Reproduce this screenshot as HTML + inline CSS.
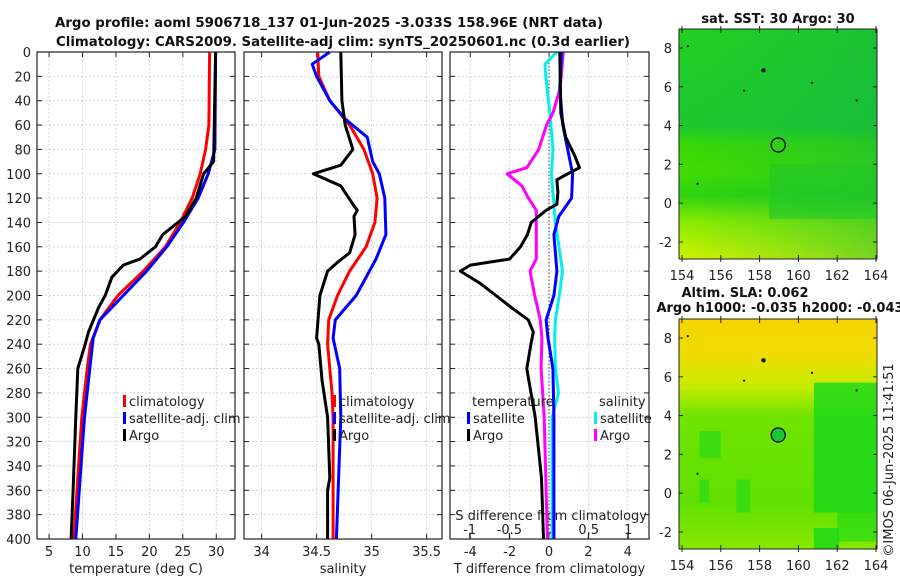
<!DOCTYPE html>
<html><head><meta charset="utf-8"><style>
html,body{margin:0;padding:0;background:#fff;}
svg{display:block;font-family:"DejaVu Sans","Liberation Sans",sans-serif;}
</style></head><body>
<svg id="fig" width="900" height="580" viewBox="0 0 900 580" xmlns="http://www.w3.org/2000/svg">
<defs>
<linearGradient id="sstg" x1="0" y1="0" x2="0" y2="1">
<stop offset="0" stop-color="#22d022"/><stop offset="0.42" stop-color="#1cc82e"/><stop offset="0.5" stop-color="#38d806"/><stop offset="0.62" stop-color="#44dc00"/><stop offset="0.72" stop-color="#2cd40e"/><stop offset="0.84" stop-color="#8cec00"/><stop offset="1" stop-color="#d2f200"/>
</linearGradient>
<linearGradient id="sstg2" x1="0" y1="0" x2="1" y2="0">
<stop offset="0" stop-color="#10b848" stop-opacity="0"/><stop offset="1" stop-color="#10b048" stop-opacity="0.45"/>
</linearGradient>
<linearGradient id="slag" x1="0" y1="0" x2="0" y2="1">
<stop offset="0" stop-color="#f6d400"/><stop offset="0.15" stop-color="#f0dc00"/><stop offset="0.3" stop-color="#c4ec00"/><stop offset="0.42" stop-color="#70e400"/><stop offset="0.8" stop-color="#60e000"/><stop offset="1" stop-color="#88e800"/>
</linearGradient>
</defs>
<g id="plots"></g>
</svg>
<script>
// ---- data: depth (m) and values ----
const tClimDepth=[0,60,80,100,120,140,160,180,200,220,240,260,300,400];
const tClimVal=[29.0,28.9,28.4,27.6,26.4,24.6,22.4,19.1,15.3,12.6,11.2,10.7,9.9,8.7];
const tSatDepth=[0,80,100,120,140,160,180,200,220,235,260,300,400];
const tSatVal=[29.9,29.8,28.8,27.3,25.1,22.6,19.6,16.1,12.6,11.6,11.1,10.3,9.0];
const tArgoDepth=[0,90,100,120,135,150,160,170,175,185,200,210,230,240,260,300,360,400];
const tArgoVal=[29.9,29.6,28.1,27.0,25.4,22.0,20.9,18.6,16.1,14.4,13.4,12.4,10.9,10.4,9.3,9.0,8.6,8.3];
const sClimDepth=[0,20,40,60,80,100,120,140,160,180,200,220,240,280,300,400];
const sClimVal=[34.51,34.52,34.62,34.80,34.93,35.01,35.05,35.03,34.95,34.80,34.69,34.61,34.60,34.64,34.65,34.65];
const sSatDepth=[0,10,20,40,55,70,90,100,120,150,170,180,200,220,235,260,300,400];
const sSatVal=[34.62,34.46,34.50,34.62,34.76,34.96,35.01,35.07,35.12,35.13,35.04,34.98,34.86,34.67,34.65,34.71,34.72,34.68];
const sArgoDepth=[0,40,60,80,93,100,110,125,130,135,150,165,172,180,200,235,240,270,300,350,360,400];
const sArgoVal=[34.72,34.73,34.76,34.83,34.72,34.47,34.72,34.83,34.87,34.84,34.85,34.80,34.70,34.60,34.53,34.50,34.52,34.55,34.60,34.62,34.60,34.60];
const dTSatDepth=[0,30,60,80,100,120,135,150,180,200,220,235,260,300,400];
const dTSatVal=[0.64,0.55,0.7,0.95,1.2,1.15,0.5,0.25,0.4,0.25,-0.15,-0.05,0.2,0.25,0.25];
const dTArgoDepth=[0,50,70,85,95,100,105,115,125,130,140,150,160,170,175,180,190,200,210,220,230,240,260,300,350,400];
const dTArgoVal=[0.55,0.6,0.85,1.3,1.55,0.95,0.4,0.45,0.4,-0.15,-0.9,-1.1,-1.45,-2.0,-4.0,-4.5,-3.5,-2.7,-1.9,-1.05,-0.8,-0.92,-1.13,-0.7,-0.38,-0.28];
const dSArgoDepth=[0,30,50,60,80,95,100,110,120,130,150,170,180,200,220,235,260,300,400];
const dSArgoVal=[0.18,0.14,0.05,-0.03,-0.13,-0.28,-0.53,-0.34,-0.26,-0.16,-0.16,-0.16,-0.24,-0.18,-0.11,-0.09,-0.1,-0.06,-0.02];
const dSSatDepth=[0,10,20,50,80,100,140,180,200,220,235,260,280,300,400];
const dSSatVal=[0.1,-0.05,-0.04,0.01,0.05,0.03,0.08,0.17,0.13,0.08,0.07,0.08,0.12,0.04,0.04];
const depthTicks=[0,20,40,60,80,100,120,140,160,180,200,220,240,260,280,300,320,340,360,380,400];
const tTicks=[5,10,15,20,25,30];
const sTicks=[34,34.5,35,35.5];
const dTTicks=[-4,-2,0,2,4];
const dSTicks=[-1,-0.5,0,0.5,1];
const lonTicks=[154,156,158,160,162,164];
const latTicks=[-2,0,2,4,6,8];
const islandLon=[154.3,157.2,158.2,160.7,163.0,154.8];
const islandLat=[8.1,5.8,6.85,6.2,5.3,1.0];
const argoLon=158.96, argoLat=3.0;

const NS="http://www.w3.org/2000/svg";
const root=document.getElementById('plots');
function el(t,a,p){const e=document.createElementNS(NS,t);for(const k in a)e.setAttribute(k,a[k]);(p||root).appendChild(e);return e;}
function txt(s,a,p){const e=el('text',a,p);e.textContent=s;return e;}

const Y0=52,Y1=539;
const yD=d=>Y0+(d/400)*(Y1-Y0);
const panels=[
 {x0:37,x1:235,lo:3.2,hi:32.8,ticks:tTicks,name:'temperature-panel',label:'temperature (deg C)'},
 {x0:244,x1:442,lo:33.84,hi:35.64,ticks:sTicks,name:'salinity-panel',label:'salinity'},
 {x0:450,x1:649,lo:-5.03,hi:5.08,ticks:dTTicks,name:'difference-panel',label:'T difference from climatology'}
];
panels.forEach((p,i)=>{
 p.sx=v=>p.x0+(v-p.lo)/(p.hi-p.lo)*(p.x1-p.x0);
 const g=el('g',{});
 
 
 depthTicks.forEach(d=>{
  el('line',{x1:p.x0,x2:p.x1,y1:yD(d),y2:yD(d),stroke:'#c4cbe6','stroke-width':0.8,'stroke-dasharray':'2,2'},g);
  el('line',{x1:p.x0,x2:p.x0+5,y1:yD(d),y2:yD(d),stroke:'#222'},g);
  el('line',{x1:p.x1-5,x2:p.x1,y1:yD(d),y2:yD(d),stroke:'#222'},g);
  if(i===0){const t=txt(String(d),{x:p.x0-6,y:yD(d)+5,'text-anchor':'end','font-size':13,fill:'#222'},g);
   }
 });
 p.ticks.forEach(v=>{
  const x=p.sx(v);
  el('line',{x1:x,x2:x,y1:Y0,y2:Y1,stroke:'#c4cbe6','stroke-width':0.8,'stroke-dasharray':'2,2'},g);
  el('line',{x1:x,x2:x,y1:Y0,y2:Y0+5,stroke:'#222'},g);
  el('line',{x1:x,x2:x,y1:Y1-5,y2:Y1,stroke:'#222'},g);
  const t=txt(String(v),{x:x,y:556,'text-anchor':'middle','font-size':13,fill:'#222'},g);
  
 });
 const xl=txt(p.label,{x:(p.x0+p.x1)/2,y:573,'text-anchor':'middle','font-size':13,fill:'#222'},g);
 
 p.g=g;
});
const P3=panels[2];
el('line',{x1:P3.sx(0),x2:P3.sx(0),y1:Y0,y2:Y1,stroke:'#444','stroke-width':1,'stroke-dasharray':'1.5,2'},P3.g);
const sxS=v=>P3.sx(0)+v*79.3;
dSTicks.forEach(v=>{
 const t=txt(String(v),{x:sxS(v),y:534,'text-anchor':'middle','font-size':13,fill:'#222'},P3.g);
 
 el('line',{x1:sxS(v),x2:sxS(v),y1:Y1-6,y2:Y1,stroke:'#222'},P3.g);
});
const st=txt('S difference from climatology',{x:P3.x1-2,y:520,'text-anchor':'end','font-size':13,fill:'#222'},P3.g);


function series(p,sx,depths,vals,color,name){
 const pts=depths.map((d,k)=>sx(vals[k]).toFixed(1)+','+yD(d).toFixed(1)).join(' ');
 const e=el('polyline',{points:pts,fill:'none',stroke:color,'stroke-width':3,'stroke-linejoin':'round'},p.g);
 
 
}
const P1=panels[0],P2=panels[1];
series(P1,P1.sx,tClimDepth,tClimVal,'#f00','temperature-climatology-line');
series(P1,P1.sx,tSatDepth,tSatVal,'#0000ff','temperature-satellite-line');
series(P1,P1.sx,tArgoDepth,tArgoVal,'#000','temperature-argo-line');
series(P2,P2.sx,sClimDepth,sClimVal,'#f00','salinity-climatology-line');
series(P2,P2.sx,sSatDepth,sSatVal,'#0000ff','salinity-satellite-line');
series(P2,P2.sx,sArgoDepth,sArgoVal,'#000','salinity-argo-line');
series(P3,sxS,dSSatDepth,dSSatVal,'#00f0f0','s-diff-satellite-line');
series(P3,sxS,dSArgoDepth,dSArgoVal,'#ff00ff','s-diff-argo-line');
series(P3,P3.sx,dTSatDepth,dTSatVal,'#0000ff','t-diff-satellite-line');
series(P3,P3.sx,dTArgoDepth,dTArgoVal,'#000','t-diff-argo-line');
panels.forEach(p=>el('rect',{x:p.x0,y:Y0,width:p.x1-p.x0,height:Y1-Y0,fill:'none',stroke:'#222','stroke-width':1.2},p.g));

function legendItem(g,x,y,color,label){
 el('rect',{x:x,y:y-11,width:3,height:12,fill:color},g);
 const t=txt(label,{x:x+6,y:y,'font-size':13,fill:'#222'},g);
 
}
[[P1,123],[P2,333]].forEach(([p,x])=>{
 legendItem(p.g,x,406,'#f00','climatology');
 legendItem(p.g,x,423,'#0000ff','satellite-adj. clim');
 legendItem(p.g,x,440,'#000','Argo');
});
txt('temperature',{x:472,y:406,'font-size':13,fill:'#222'},P3.g);
txt('salinity',{x:599,y:406,'font-size':13,fill:'#222'},P3.g);
legendItem(P3.g,467,423,'#0000ff','satellite');
legendItem(P3.g,467,440,'#000','Argo');
legendItem(P3.g,594,423,'#00f0f0','satellite');
legendItem(P3.g,594,440,'#ff00ff','Argo');

const t1=txt('Argo profile: aoml 5906718_137 01-Jun-2025 -3.033S 158.96E (NRT data)',{x:55,y:27,'font-size':13,'font-weight':'bold',fill:'#111',textLength:548,lengthAdjust:'spacingAndGlyphs'});

const t2=txt('Climatology: CARS2009. Satellite-adj clim: synTS_20250601.nc (0.3d earlier)',{x:56,y:46,'font-size':13,'font-weight':'bold',fill:'#111',textLength:574,lengthAdjust:'spacingAndGlyphs'});


function map(top,bottom,fillId,name,titles,extra){
 const g=el('g',{});
 
 
 const X0=679,X1=877;
 const mx=l=>682+(l-154)*(876-682)/10;
 const my=la=>top+(8.98-la)*(bottom-top)/(8.98+2.88);
 el('rect',{x:X0,y:top,width:X1-X0,height:bottom-top,fill:'url(#'+fillId+')'},g);
 extra(g,mx,my);
 islandLon.forEach((l,k)=>el('circle',{cx:mx(l),cy:my(islandLat[k]),r:k===2?2.2:1.1,fill:'#111'},g));
 const c=el('circle',{cx:mx(argoLon),cy:my(argoLat),r:7,fill:'none',stroke:'#000','stroke-width':1.3},g);
 
 el('rect',{x:X0,y:top,width:X1-X0,height:bottom-top,fill:'none',stroke:'#222'},g);
 latTicks.forEach(la=>{
  el('line',{x1:X0,x2:X0+4,y1:my(la),y2:my(la),stroke:'#222'},g);
  el('line',{x1:X1-4,x2:X1,y1:my(la),y2:my(la),stroke:'#222'},g);
  txt(String(la),{x:X0-7,y:my(la)+5,'text-anchor':'end','font-size':13,fill:'#222'},g);
 });
 lonTicks.forEach(l=>{
  el('line',{x1:mx(l),x2:mx(l),y1:bottom-4,y2:bottom+3,stroke:'#222'},g);
  el('line',{x1:mx(l),x2:mx(l),y1:top-3,y2:top+4,stroke:'#222'},g);
  txt(String(l),{x:mx(l),y:bottom+21,'text-anchor':'middle','font-size':13,fill:'#222'},g);
 });
 titles.forEach(s=>{const t=txt(s[0],{x:s[1],y:s[2],'text-anchor':'middle','font-size':13,'font-weight':'bold',fill:'#111'},g);
  });
}
map(29,259,'sstg','sst-map',[['sat. SST: 30 Argo: 30',778,23]],(g,mx,my)=>{
 el('rect',{x:679,y:29,width:198,height:230,fill:'url(#sstg2)'},g);
 el('rect',{x:mx(158.5),y:my(2),width:877-mx(158.5),height:my(-0.8)-my(2),fill:'#20c828',opacity:0.6},g);
});
map(319,549,'slag','sla-map',[['Altim. SLA: 0.062',745,297],['Argo h1000: -0.035 h2000: -0.043',780,312]],(g,mx,my)=>{
 el('rect',{x:mx(160.8),y:my(5.7),width:877-mx(160.8),height:my(-1)-my(5.7),fill:'#18d81a',opacity:0.8},g);
 el('rect',{x:mx(162),y:my(-1),width:877-mx(162),height:my(-2.5)-my(-1),fill:'#18d81a',opacity:0.6},g);
 el('rect',{x:mx(160.8),y:my(-1.8),width:mx(162.1)-mx(160.8),height:my(-2.88)-my(-1.8),fill:'#18d81a',opacity:0.8},g);
 el('rect',{x:mx(154.9),y:my(3.2),width:mx(156)-mx(154.9),height:my(1.8)-my(3.2),fill:'#2ad81a',opacity:0.7},g);
 el('rect',{x:mx(154.9),y:my(0.7),width:mx(155.4)-mx(154.9),height:my(-0.5)-my(0.7),fill:'#2ad81a',opacity:0.7},g);
 el('rect',{x:mx(156.8),y:my(0.7),width:mx(157.5)-mx(156.8),height:my(-1)-my(0.7),fill:'#2ad81a',opacity:0.7},g);
 el('circle',{cx:mx(158.96),cy:my(3.0),r:7,fill:'#18c832'},g);
});
const cr=txt('©IMOS 06-Jun-2025 11:41:51',{x:0,y:0,'font-size':13,fill:'#222','text-anchor':'middle',transform:'translate(893,460) rotate(-90)'});

</script>
</body></html>
